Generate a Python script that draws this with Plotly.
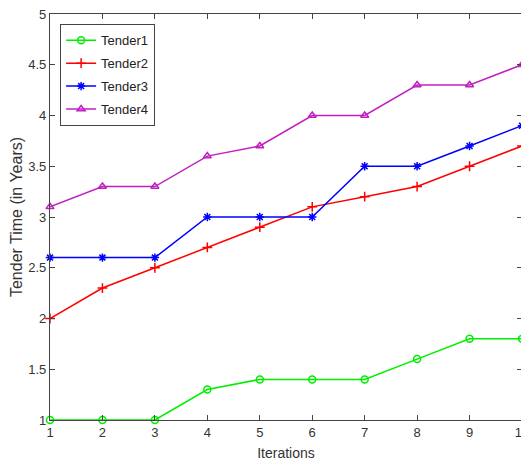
import plotly.graph_objects as go

iterations = [1, 2, 3, 4, 5, 6, 7, 8, 9, 10]
tender1 = [1.0, 1.0, 1.0, 1.3, 1.4, 1.4, 1.4, 1.6, 1.8, 1.8]
tender2 = [2.0, 2.3, 2.5, 2.7, 2.9, 3.1, 3.2, 3.3, 3.5, 3.7]
tender3 = [2.6, 2.6, 2.6, 3.0, 3.0, 3.0, 3.5, 3.5, 3.7, 3.9]
tender4 = [3.1, 3.3, 3.3, 3.6, 3.7, 4.0, 4.0, 4.3, 4.3, 4.5]
names = ["Tender1", "Tender2", "Tender3", "Tender4"]

series = [tender1, tender2, tender3, tender4]
colors = ["#00ee00", "#ff0000", "#0000ff", "#c020c0"]
symbols = ["circle-open", "cross-thin-open", "asterisk-open", "triangle-up-open"]

fig = go.Figure()
for name, ys, c, s in zip(names, series, colors, symbols):
    fig.add_trace(go.Scatter(
        x=iterations, y=ys, name=name, legendgroup=name, mode="lines+markers",
        line=dict(color=c, width=1.5),
        marker=dict(symbol=s, size=7, color=c, line=dict(color=c, width=1.5)),
        cliponaxis=False,
    ))

axis_common = dict(
    showline=True, linecolor="#444", linewidth=1.2, mirror="ticks",
    ticks="inside", ticklen=5, tickcolor="#444", showgrid=False, zeroline=False,
    automargin=False, ticklabeloverflow="allow",
    tickfont=dict(family="Liberation Sans, Arial", size=13, color="#333"),
)

fig.update_layout(
    width=521, height=453,
    margin=dict(l=42, r=7, t=6, b=41),
    paper_bgcolor="white", plot_bgcolor="white",
    font=dict(family="Liberation Sans, Arial", size=13, color="#333"),
    xaxis=dict(range=[1, 10], tickmode="linear", tick0=1, dtick=1,
               title=dict(text="Iterations", standoff=10, font=dict(size=14)), **axis_common),
    yaxis=dict(range=[1, 5], tickmode="linear", tick0=1, dtick=0.5,
               title=dict(text="Tender Time (in Years)", standoff=3, font=dict(size=16)), **axis_common),
    legend=dict(x=0.021, y=0.975, xanchor="left", yanchor="top",
                bgcolor="white", bordercolor="#444", borderwidth=1.2,
                font=dict(size=13, color="#222"),
                tracegroupgap=3, entrywidth=85),
    showlegend=True,
)

fig.write_html("out.html")
